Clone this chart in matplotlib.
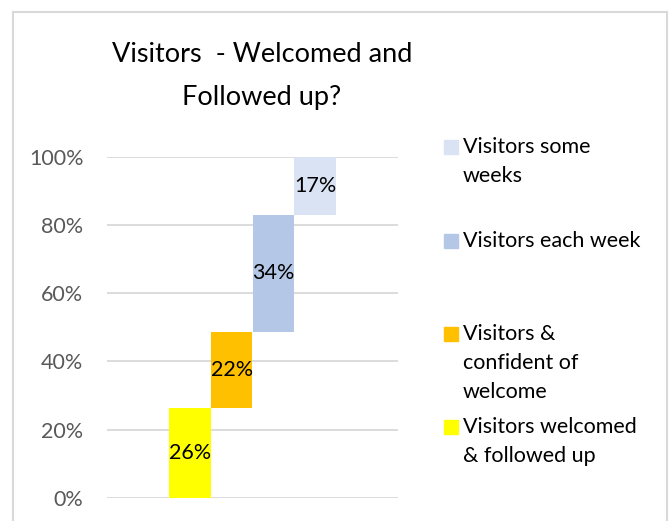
import matplotlib
matplotlib.use("Agg")
from matplotlib import pyplot as plt
from matplotlib.patches import Rectangle
from matplotlib.lines import Line2D

plt.rcParams['font.family'] = ['Lato', 'DejaVu Sans']

# data (share of visitors, %)
series = ["Visitors welcomed\n& followed up", "Visitors &\nconfident of\nwelcome",
          "Visitors each week", "Visitors some\nweeks"]
values = [26.3, 22.4, 34.2, 17.1]
labels = ["26%", "22%", "34%", "17%"]
colors = ["#ffff00", "#ffc000", "#b4c7e7", "#dae3f3"]

W, H = 672, 521
fig = plt.figure(figsize=(6.72, 5.21), dpi=100)

# axes placed in pixel terms
x0, x1, y0, y1 = 107, 398, 497.7, 156.7
ax = fig.add_axes([x0 / W, 1 - y0 / H, (x1 - x0) / W, (y0 - y1) / H])

bottom = 0
for i, v in enumerate(values):
    ax.bar(i, v, bottom=bottom, width=1.0, color=colors[i], zorder=2)
    ax.text(i, bottom + v / 2, labels[i], ha='center', va='center', fontsize=15.5, color='black', zorder=3)
    bottom += v

ax.set_xlim(-1.99, 4.99)
ax.set_ylim(0, 100)
ticks = [0, 20, 40, 60, 80, 100]
ax.set_yticks(ticks)
ax.set_yticklabels([f"{t}%" for t in ticks], fontsize=15.5, color='#595959')
ax.set_xticks([])
ax.tick_params(axis='y', length=0, pad=17)
for s in ax.spines.values():
    s.set_visible(False)
ax.yaxis.grid(True, color='#d9d9d9', linewidth=1.3, zorder=0)
ax.set_axisbelow(True)

# title, one text per line
for line, y in zip(["Visitors  - Welcomed and", "Followed up?"], [54, 98]):
    fig.text(262 / W, 1 - y / H, line, ha='center', va='center', fontsize=19.5, color='black')

# legend drawn by hand, top to bottom
leg_y = [147, 241, 334, 427]
for k, idx in enumerate([3, 2, 1, 0]):
    y = leg_y[k]
    fig.patches.append(Rectangle((444 / W, 1 - (y + 7) / H), 14 / W, 14 / H,
                                 transform=fig.transFigure, color=colors[idx]))
    for j, part in enumerate(series[idx].split("\n")):
        fig.text(463 / W, 1 - (y + 29 * j) / H, part, ha='left', va='center', fontsize=15.5,
                 color='black')

# chart frame
for xs, ys in [((13, 13), (12, 521)), ((667, 667), (12, 521)), ((13, 667), (12, 12))]:
    fig.lines.append(Line2D([x / W for x in xs], [1 - y / H for y in ys], transform=fig.transFigure,
                            color='#d9d9d9', linewidth=1.5))

fig.savefig("out.png", dpi=100)
